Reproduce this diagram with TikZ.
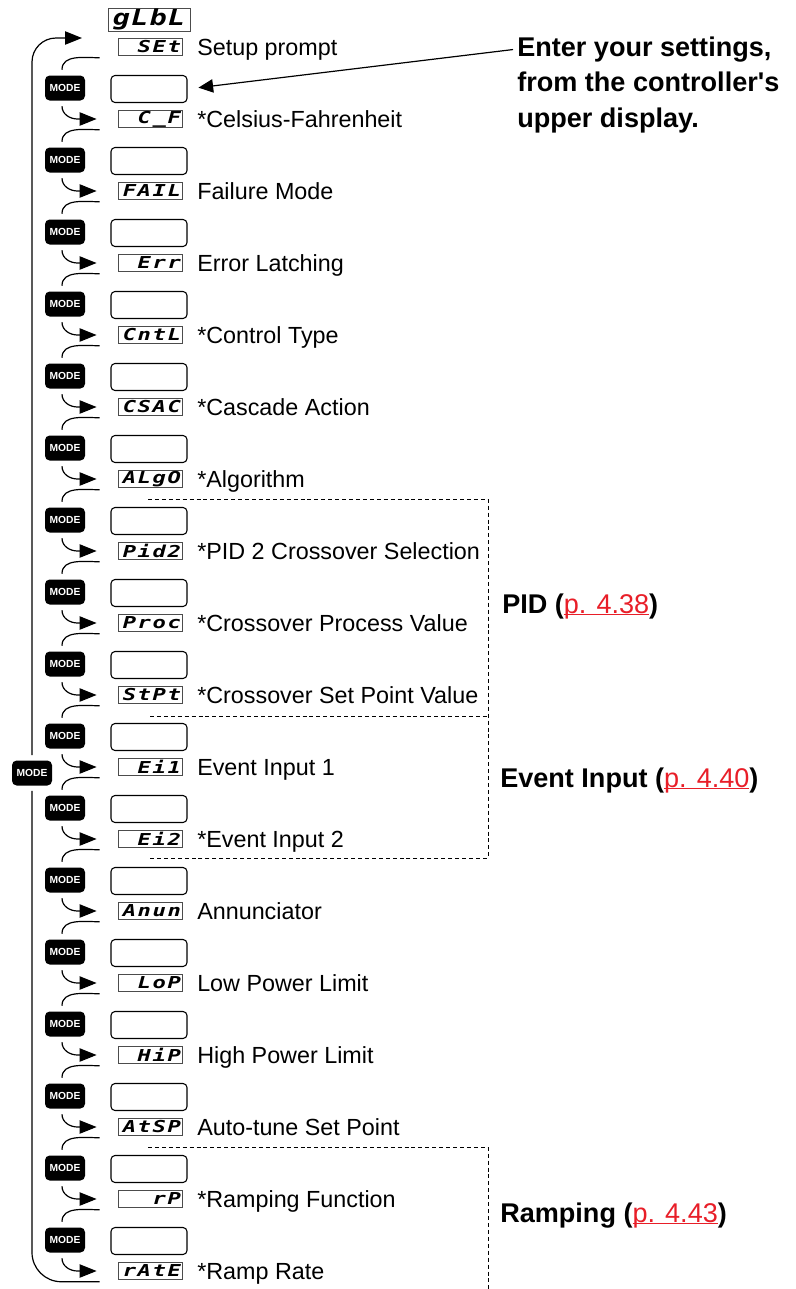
\documentclass[tikz,border=0pt]{standalone}
\usepackage{fontspec}
\setmainfont{Liberation Sans}[Ligatures=TeXOff]
\newfontfamily\segfont[FakeStretch=1.35,LetterSpace=10]{DejaVu Sans Mono}
\newfontfamily\segbig[FakeStretch=1.3,LetterSpace=5]{DejaVu Sans Mono}
\usetikzlibrary{arrows.meta,calc}
\definecolor{linkred}{RGB}{232,30,40}
\newcommand\ulink[1]{\textcolor{linkred}{\mdseries\setbox0\hbox{#1}\rlap{\rule[-1.6pt]{\wd0}{0.75pt}}\box0}}
\begin{document}
\begin{tikzpicture}[x=0.75pt,y=0.75pt,
  conn/.style={line width=0.9pt},
  tip/.style={-{Triangle[length=12.75pt,width=10pt]}},
  disp/.style={draw=black!70,line width=0.6pt,minimum width=48pt,minimum height=12.5pt,inner sep=0pt,text width=46.5pt,align=right,font=\segfont\bfseries\itshape\fontsize{12.3}{12.3}\selectfont},
  dispbig/.style={draw=black!70,line width=0.6pt,minimum width=61.5pt,minimum height=17.25pt,inner sep=0pt,font=\segbig\bfseries\itshape\fontsize{16.5}{16.5}\selectfont},
  ebox/.style={draw,line width=0.8pt,rounded corners=3pt,minimum width=57pt,minimum height=20.25pt,inner sep=0pt},
  modebtn/.style={fill=black,rounded corners=3.5pt,minimum width=30pt,minimum height=18.75pt,inner sep=0pt,text=white,font=\bfseries\fontsize{7.7}{7.7}\selectfont},
  itemlab/.style={anchor=base west,inner sep=0pt,font=\fontsize{17.5}{20}\selectfont},
  grp/.style={anchor=base west,inner sep=0pt,font=\bfseries\fontsize{20.3}{24}\selectfont},
  brk/.style={line width=0.6pt,dash pattern=on 3pt off 2.2pt},
]
\useasboundingbox (0,0) rectangle (796,-1289);

\node[dispbig] (glbl) at (149,-19.5) {gLbL};

\foreach \t/\lab [count=\i from 0] in {SEt/Setup prompt, C\_F/*Celsius-Fahrenheit, FAIL/Failure Mode, Err/Error Latching, CntL/*Control Type, CSAC/*Cascade Action, ALgO/*Algorithm, Pid2/*PID 2 Crossover Selection, Proc/*Crossover Process Value, StPt/*Crossover Set Point Value, Ei1/Event Input 1, Ei2/*Event Input 2, Anun/Annunciator, LoP/Low Power Limit, HiP/High Power Limit, AtSP/Auto-tune Set Point, rP/*Ramping Function, rAtE/*Ramp Rate}{
  \pgfmathsetmacro\yy{-(47+72*\i)}
  \node[disp] (d\i) at (150,\yy) {\t};
  \node[itemlab] (l\i) at (197,\yy-8) {\lab};
}

\foreach \i in {1,...,17}{
  \pgfmathsetmacro\yy{-(47+72*\i)}
  \pgfmathtruncatemacro\j{\i-1}
  \node[ebox] (e\i) at (149,\yy+30) {};
  \node[modebtn] (m\i) at (65,\yy+31) {MODE};
  \draw[conn] ($(d\j.south west)+(-18,-2)$) to[out=180,in=90] ($(m\i.north)+(-3,5.5)$);
  \draw[conn,tip] ($(m\i.south)+(-3,-5.5)$) to[out=-90,in=180] ($(d\i.west)+(-40,0)$) -- ($(d\i.west)+(-21,0)$);
}

% outer loop
\node[modebtn] (M) at (32,-773) {MODE};
\coordinate (loopin) at (82,-38);
\coordinate (loopout) at ($(d17.south west)+(-18,-2)$);
\draw[conn,tip,rounded corners=18pt] ($(M.north)+(0,5)$) |- (loopin);
\draw[conn,rounded corners=22pt] (loopout) -| ($(M.south)+(0,-5)$);

% note
\node[grp] (n1) at (517,-56) {Enter your settings,};
\node[grp] (n2) at (517,-91.5) {from the controller's};
\node[grp] (n3) at (517,-127) {upper display.};
\draw[conn,-{Triangle[length=11pt,width=10pt]},shorten <=3pt,shorten >=8.25pt] (n1.west) -- (e1.east);

% group brackets
\draw[brk] (148,-499) -- (488,-499) -- (488,-858) -- (148,-858);
\draw[brk] (150,-716) -- (488,-716);
\draw[brk] (148,-1147) -- (488,-1147) -- (488,-1289);

\node[grp] (gpid) at (502,-613) {PID (\ulink{p. 4.38})};
\node[grp] (gev) at (500,-787) {Event Input (\ulink{p. 4.40})};
\node[grp] (gramp) at (500,-1222) {Ramping (\ulink{p. 4.43})};
\end{tikzpicture}
\end{document}
